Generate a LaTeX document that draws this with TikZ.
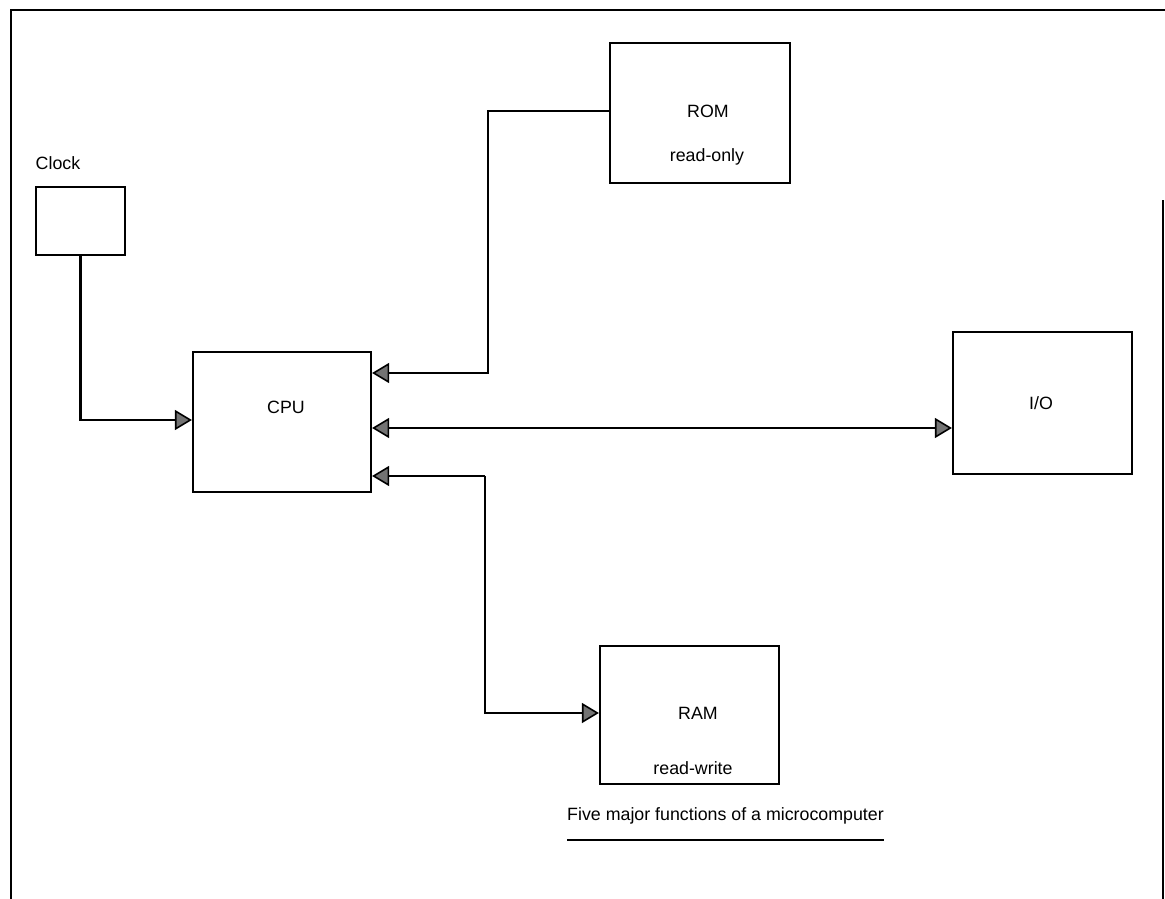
\documentclass[tikz,border=0pt]{standalone}
\usepackage{fontspec}
\setmainfont{Liberation Sans}
\usetikzlibrary{arrows.meta}
\begin{document}
\begin{tikzpicture}[x=1pt,y=-1pt,
  blk/.style={draw=black,line width=2.2pt,fill=white,inner sep=0pt},
  lbl/.style={font=\fontsize{17.8}{21}\selectfont,inner sep=0pt},
  conn/.style={line width=2.2pt,line join=miter},
  tip/.style={-{Triangle[length=17pt,width=20pt,fill=black!55,line width=1.6pt]}},
  dtip/.style={{Triangle[length=17pt,width=20pt,fill=black!55,line width=1.6pt]}-{Triangle[length=17pt,width=20pt,fill=black!55,line width=1.6pt]}}]
\useasboundingbox (0,0) rectangle (1165,899);
% frame
\draw[line width=2.6pt] (11,899) -- (11,10) -- (1165,10);
\draw[line width=2.8pt] (1163,200) -- (1163,899);
% boxes
\node[blk,minimum width=89pt,minimum height=68pt] (clock) at (80.5,221) {};
\node[lbl] (clocklbl) at (58,163) {Clock};
\node[blk,minimum width=178pt,minimum height=140pt] (cpu) at (282,422) {};
\node[lbl] (cpulbl) at (286,407) {CPU};
\node[blk,minimum width=180pt,minimum height=140pt] (rom) at (700,113) {};
\node[lbl] (romlbl) at (708,111) {ROM};
\node[lbl] (rolbl) at (707,157) {read-only};
\node[blk,minimum width=179pt,minimum height=142pt] (io) at (1042.5,403) {};
\node[lbl] (iolbl) at (1041,403) {I/O};
\node[blk,minimum width=179pt,minimum height=138pt] (ram) at (689.5,715) {};
\node[lbl] (ramlbl) at (698,713) {RAM};
\node[lbl] (rwlbl) at (693,768) {read-write};
% caption
\node[lbl,anchor=base] (cap) at (725.5,820) {Five major functions of a microcomputer};
\draw[line width=2pt] (567,840) -- (884,840);
% connectors
\draw[conn,tip] (clock.south) -- (80.5,420) -- (cpu.west |- 0,420);
\draw[conn,tip] (rom.west |- 0,111) -- (488,111) -- (488,373) -- (cpu.east |- 0,373);
\draw[conn,dtip] (cpu.east |- 0,428) -- (io.west |- 0,428);
\draw[conn,tip] (485,476) -- (cpu.east |- 0,476);
\draw[conn,tip] (485,476) -- (485,713) -- (ram.west |- 0,713);
\end{tikzpicture}
\end{document}
